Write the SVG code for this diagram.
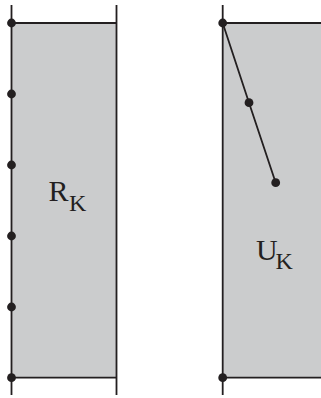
<svg xmlns="http://www.w3.org/2000/svg" width="321" height="398" viewBox="0 0 321 398">
<style>
.fill{fill:#cbcccd;stroke:none}
.ln{stroke:#231f20;stroke-width:1.8;fill:none}
.dot{fill:#231f20}
.t{font-family:"Liberation Serif",serif;fill:#231f20}
</style>
<g id="panel-R">
<rect class="fill" x="11.5" y="23" width="105" height="354.7"/>
<line class="ln" x1="11.5" y1="5" x2="11.5" y2="395"/>
<line class="ln" x1="116.5" y1="5" x2="116.5" y2="395"/>
<line class="ln" x1="11.5" y1="23" x2="116.5" y2="23"/>
<line class="ln" x1="11.5" y1="377.7" x2="116.5" y2="377.7"/>
<text class="t" x="48.5" y="201" font-size="30">R</text>
<text class="t" x="69" y="211" font-size="24">K</text>
</g>
<g id="panel-U">
<rect class="fill" x="222.7" y="23" width="98.3" height="354.7"/>
<line class="ln" x1="222.7" y1="5" x2="222.7" y2="395"/>
<line class="ln" x1="222.7" y1="23" x2="321" y2="23"/>
<line class="ln" x1="222.7" y1="377.7" x2="321" y2="377.7"/>
<text class="t" x="256" y="259.5" font-size="30">U</text>
<text class="t" x="275.5" y="268.5" font-size="24">K</text>
</g>
<g id="connectors">
<polyline class="ln" points="222.7,23 249,102.7 275.7,182.7"/>
</g>
<g id="points">
<circle class="dot" cx="11.5" cy="23" r="4.4"/>
<circle class="dot" cx="11.5" cy="94" r="4.4"/>
<circle class="dot" cx="11.5" cy="165" r="4.4"/>
<circle class="dot" cx="11.5" cy="236" r="4.4"/>
<circle class="dot" cx="11.5" cy="307" r="4.4"/>
<circle class="dot" cx="11.5" cy="377.7" r="4.4"/>
<circle class="dot" cx="222.7" cy="23" r="4.4"/>
<circle class="dot" cx="249" cy="102.7" r="4.4"/>
<circle class="dot" cx="275.7" cy="182.7" r="4.4"/>
<circle class="dot" cx="222.7" cy="377.7" r="4.4"/>
</g>
</svg>
